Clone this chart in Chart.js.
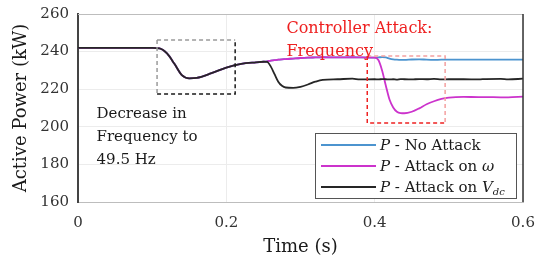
<!DOCTYPE html>
<html>
<head>
<meta charset="utf-8">
<script src="https://cdn.jsdelivr.net/npm/chart.js@4.4.0/dist/chart.umd.min.js"></script>
<style>
  html, body { margin: 0; padding: 0; background: #fff; }
  #wrap { width: 535px; height: 259px; }
</style>
</head>
<body>
<div id="wrap"><canvas id="myChart" width="535" height="259"></canvas></div>
<script>
// Time axis (s) and active power series (kW)
const timeSec = [0, 0.05, 0.1, 0.11, 0.12, 0.13, 0.14, 0.15, 0.16, 0.18, 0.2, 0.22, 0.24, 0.25,
    0.255, 0.26, 0.265, 0.27, 0.275, 0.28, 0.29, 0.3, 0.31, 0.32, 0.33, 0.35, 0.37, 0.38, 0.4,
    0.405, 0.41, 0.415, 0.42, 0.425, 0.43, 0.435, 0.44, 0.45, 0.46, 0.47, 0.48, 0.49, 0.5,
    0.52, 0.54, 0.55, 0.57, 0.58, 0.6];

const noAttack = [242, 242, 242, 241.7, 239, 233.5, 227.5, 225.8, 226, 228.5, 231.5, 233.5, 234.3, 234.6,
    234.8, 235.2, 235.5, 235.7, 235.9, 236, 236.3, 236.6, 236.8, 236.9, 237, 236.9, 237, 236.9, 236.8,
    236.9, 237.1, 236.9, 236.3, 235.9, 235.7, 235.6, 235.6, 235.8, 235.9, 235.7, 235.6, 235.7, 235.7,
    235.7, 235.7, 235.7, 235.7, 235.7, 235.7];

const attackOmega = [242, 242, 242, 241.7, 239, 233.5, 227.5, 225.8, 226, 228.5, 231.5, 233.5, 234.3, 234.6,
    234.8, 235.2, 235.5, 235.7, 235.9, 236, 236.3, 236.6, 236.8, 236.9, 237, 236.9, 237, 236.9, 236.8,
    235.5, 230, 222, 214.5, 210.3, 208, 207.3, 207.2, 208, 209.8, 212, 213.6, 214.8, 215.5,
    215.9, 215.8, 215.8, 215.7, 215.7, 216];

const attackVdc = [242, 242, 242, 241.7, 239, 233.5, 227.5, 225.8, 226, 228.5, 231.5, 233.5, 234.3, 234.6,
    234.5, 232, 228, 224, 221.8, 220.9, 220.7, 221.3, 222.5, 224, 225, 225.3, 225.6, 225.2, 225.3,
    225.2, 225.4, 225.3, 225.2, 225.3, 225.1, 225.4, 225.3, 225.2, 225.4, 225.3, 225.5, 225.2, 225.3,
    225.3, 225.2, 225.4, 225.5, 225.2, 225.6];

const seriesNames = ['No Attack', 'Attack on ω', 'Attack on Vdc'];
const seriesColors = ['#4c94cf', '#cc33cc', '#262626'];

const serif = '"DejaVu Serif", "Liberation Serif", serif';

function toPoints(values) {
    return timeSec.map((t, i) => ({ x: t, y: values[i] }));
}

// Dashed boxes and text notes, in data units
const noteBoxes = [
    { x0: 0.1066, x1: 0.2119, y0: 217.4, y1: 246.2, dark: '#1a1a1a', light: '#9a9a9a' },
    { x0: 0.390, x1: 0.495, y0: 202.0, y1: 237.7, dark: '#ee2222', light: '#f4a0a0' }
];
const noteTexts = [
    { x: 0.025, y: 204.7, size: 15, lines: ['Decrease in', 'Frequency to', '49.5 Hz'], color: '#1a1a1a' },
    { x: 0.281, y: 249.9, size: 16, lines: ['Controller Attack:', 'Frequency'], color: '#ee2020' }
];

const annotationPlugin = {
    id: 'notes',
    afterDatasetsDraw(chart) {
        const ctx = chart.ctx;
        const xs = chart.scales.x, ys = chart.scales.y;
        const area = chart.chartArea;
        ctx.save();

        // box outline (top + right)
        ctx.lineWidth = 1;
        ctx.strokeStyle = '#bdbdbd';
        ctx.beginPath();
        ctx.moveTo(area.left, area.top + 0.5);
        ctx.lineTo(area.right, area.top + 0.5);
        ctx.stroke();
        ctx.lineWidth = 1.5;
        ctx.strokeStyle = '#333';
        ctx.beginPath();
        ctx.moveTo(area.right, area.top);
        ctx.lineTo(area.right, area.bottom);
        ctx.stroke();

        // dashed boxes
        ctx.lineWidth = 1.5;
        ctx.setLineDash([4, 3]);
        noteBoxes.forEach(b => {
            const l = xs.getPixelForValue(b.x0), r = xs.getPixelForValue(b.x1);
            const t = ys.getPixelForValue(b.y1), btm = ys.getPixelForValue(b.y0);
            const isRed = b.dark !== '#1a1a1a';
            ctx.strokeStyle = b.light;
            ctx.beginPath();
            ctx.moveTo(l, t); ctx.lineTo(r, t);
            if (isRed) { ctx.lineTo(r, btm); } else { ctx.moveTo(l, t); ctx.lineTo(l, btm); }
            ctx.stroke();
            ctx.strokeStyle = b.dark;
            ctx.beginPath();
            if (isRed) {
                ctx.moveTo(l, t); ctx.lineTo(l, btm); ctx.lineTo(r, btm);
            } else {
                ctx.moveTo(l, btm); ctx.lineTo(r, btm); ctx.lineTo(r, t);
            }
            ctx.stroke();
        });
        ctx.setLineDash([]);

        // text notes
        ctx.textBaseline = 'alphabetic';
        ctx.textAlign = 'left';
        noteTexts.forEach(n => {
            const x = xs.getPixelForValue(n.x);
            const y = ys.getPixelForValue(n.y);
            ctx.font = n.size + 'px ' + serif;
            ctx.fillStyle = n.color;
            n.lines.forEach((line, i) => ctx.fillText(line, x, y + i * 23));
        });

        // legend box
        const lw = 201, lh = 65;
        const lx = area.right - 7 - lw, ly = area.bottom - 4 - lh;
        ctx.fillStyle = '#fff';
        ctx.fillRect(lx, ly, lw, lh);
        ctx.lineWidth = 1;
        ctx.strokeStyle = '#555';
        ctx.strokeRect(lx + 0.5, ly + 0.5, lw, lh);
        seriesNames.forEach((name, i) => {
            const rowY = ly + 12 + i * 21;
            ctx.strokeStyle = seriesColors[i];
            ctx.lineWidth = 2;
            ctx.beginPath();
            ctx.moveTo(lx + 6, rowY);
            ctx.lineTo(lx + 61, rowY);
            ctx.stroke();
            let tx = lx + 65;
            const base = rowY + 5;
            ctx.fillStyle = '#1a1a1a';
            ctx.font = 'italic 15px ' + serif;
            ctx.fillText('P', tx, base);
            tx += ctx.measureText('P').width;
            ctx.font = '15px ' + serif;
            if (i === 0) {
                ctx.fillText(' - No Attack', tx, base);
            } else if (i === 1) {
                ctx.fillText(' - Attack on ', tx, base);
                tx += ctx.measureText(' - Attack on ').width;
                ctx.font = 'italic 15px ' + serif;
                ctx.fillText('ω', tx, base);
            } else {
                ctx.fillText(' - Attack on ', tx, base);
                tx += ctx.measureText(' - Attack on ').width;
                ctx.font = 'italic 15px ' + serif;
                ctx.fillText('V', tx, base);
                tx += ctx.measureText('V').width;
                ctx.font = 'italic 10px ' + serif;
                ctx.fillText('dc', tx, base + 3);
            }
        });
        ctx.restore();
    }
};

const chartCanvas = document.getElementById('myChart').getContext('2d');

new Chart(chartCanvas, {
    type: 'line',
    data: {
        datasets: [
            { label: seriesNames[0], data: toPoints(noAttack), borderColor: seriesColors[0], order: 2 },
            { label: seriesNames[1], data: toPoints(attackOmega), borderColor: seriesColors[1], order: 1 },
            { label: seriesNames[2], data: toPoints(attackVdc), borderColor: seriesColors[2], order: 0 }
        ].map(d => Object.assign(d, {
            borderWidth: 1.8,
            pointRadius: 0,
            fill: false,
            cubicInterpolationMode: 'monotone'
        }))
    },
    options: {
        responsive: false,
        animation: false,
        layout: { padding: { top: 14, right: 12, left: 0, bottom: 0 } },
        plugins: {
            legend: { display: false },
            tooltip: { enabled: false }
        },
        scales: {
            x: {
                type: 'linear',
                min: 0,
                max: 0.6,
                ticks: { stepSize: 0.2, color: '#333', padding: 12, font: { family: serif, size: 15 } },
                grid: { color: '#ececec', drawTicks: false },
                border: { color: '#bdbdbd', width: 1 },
                title: { display: true, text: 'Time (s)', color: '#1a1a1a', font: { family: serif, size: 18 }, padding: { top: 0, bottom: 1 } },
                afterFit: s => { s.height = 57; s.paddingLeft = 0; s.paddingRight = 0; }
            },
            y: {
                min: 160,
                max: 260,
                ticks: { stepSize: 20, color: '#333', padding: 9, font: { family: serif, size: 15 } },
                grid: { color: '#ececec', drawTicks: false },
                border: { color: '#444', width: 2 },
                title: { display: true, text: 'Active Power (kW)', color: '#1a1a1a', font: { family: serif, size: 18 }, padding: { top: 11, bottom: 0 } },
                afterFit: s => { s.width = 78; s.paddingTop = 0; s.paddingBottom = 0; }
            }
        }
    },
    plugins: [annotationPlugin]
});
</script>
</body>
</html>
